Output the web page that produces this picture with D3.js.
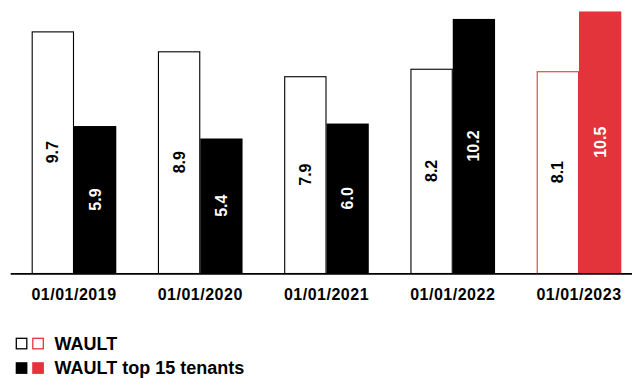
<!DOCTYPE html>
<html>
<head>
<meta charset="utf-8">
<script src="https://cdn.jsdelivr.net/npm/d3@7"></script>
<style>
  html, body { margin: 0; padding: 0; background: #fff; }
  svg { display: block; font-family: "Liberation Sans", Arial, Helvetica, sans-serif; font-weight: bold; }
</style>
</head>
<body>
<svg id="chart" width="632" height="379"></svg>
<script>
// WAULT (years) per reporting date
const dates = ["01/01/2019", "01/01/2020", "01/01/2021", "01/01/2022", "01/01/2023"];
const wault = [9.7, 8.9, 7.9, 8.2, 8.1];
const waultTop15 = [5.9, 5.4, 6.0, 10.2, 10.5];
const seriesKeys = ["wault", "top15"];
const legendLabels = ["WAULT", "WAULT top 15 tenants"];

const RED = "#e4343b";
const BLACK = "#000";

const svg = d3.select("#chart");
const baseY = 273;

const x = d3.scaleBand().domain(dates).range([31.7, 621.3]).paddingInner(0.33).paddingOuter(0);
const xi = d3.scaleBand().domain(seriesKeys).range([0, x.bandwidth()]);
const y = d3.scaleLinear().domain([0, 10.96]).range([baseY, 0]);

const rows = dates.map((d, i) => ({
  date: d,
  highlight: i === dates.length - 1,
  values: [
    { key: "wault", value: wault[i] },
    { key: "top15", value: waultTop15[i] }
  ]
}));

const groups = svg.append("g").selectAll("g")
  .data(rows)
  .join("g")
  .attr("transform", d => `translate(${x(d.date)},0)`);

groups.each(function (row) {
  const g = d3.select(this);
  const accent = row.highlight ? RED : BLACK;
  row.values.forEach(v => {
    const bx = xi(v.key);
    const bw = xi.bandwidth();
    const top = y(v.value);
    const filled = v.key === "top15";
    if (filled) {
      g.append("rect")
        .attr("x", bx).attr("y", top)
        .attr("width", bw).attr("height", baseY - top)
        .attr("fill", accent);
    } else {
      g.append("rect")
        .attr("x", bx + 0.5).attr("y", top + 0.5)
        .attr("width", bw - 1).attr("height", baseY - top)
        .attr("fill", "#fff")
        .attr("stroke", accent)
        .attr("stroke-width", 1.1);
    }
    const cx = bx + bw / 2;
    const cy = (top + baseY) / 2;
    g.append("text")
      .attr("transform", `translate(${cx},${cy}) rotate(-90)`)
      .attr("text-anchor", "middle")
      .attr("dominant-baseline", "central")
      .attr("font-size", 16)
      .attr("fill", filled ? "#fff" : "#000")
      .text(d3.format(".1f")(v.value));
  });
});

// baseline
svg.append("line")
  .attr("x1", 10.7).attr("x2", 632)
  .attr("y1", baseY + 0.85).attr("y2", baseY + 0.85)
  .attr("stroke", "#000")
  .attr("stroke-width", 1.7);

// date labels
const axis = d3.axisBottom(x).tickSize(0).tickPadding(0);
const axisG = svg.append("g")
  .attr("transform", `translate(0,${baseY})`)
  .call(axis);
axisG.select(".domain").remove();
axisG.selectAll("text")
  .attr("y", 27.3)
  .attr("dy", null)
  .attr("font-size", 16)
  .attr("font-family", "\"Liberation Sans\", Arial, Helvetica, sans-serif")
  .attr("font-weight", "bold")
  .attr("letter-spacing", 0.5)
  .attr("fill", "#000");

// legend
const legend = svg.append("g");
legendLabels.forEach((label, i) => {
  const ly = 338.3 + i * 24.5;
  const filled = i === 1;
  [BLACK, RED].forEach((c, j) => {
    const sx = 16.3 + j * 16.5;
    if (filled) {
      legend.append("rect")
        .attr("x", sx - 0.6).attr("y", ly - 0.6)
        .attr("width", 11.7).attr("height", 11.7)
        .attr("fill", c);
    } else {
      legend.append("rect")
        .attr("x", sx).attr("y", ly)
        .attr("width", 10.5).attr("height", 10.5)
        .attr("fill", "#fff")
        .attr("stroke", c)
        .attr("stroke-width", 1.3);
    }
  });
  legend.append("text")
    .attr("x", 54.5)
    .attr("y", ly + 11.6)
    .attr("font-size", 18)
    .attr("fill", "#000")
    .text(label);
});
</script>
</body>
</html>
